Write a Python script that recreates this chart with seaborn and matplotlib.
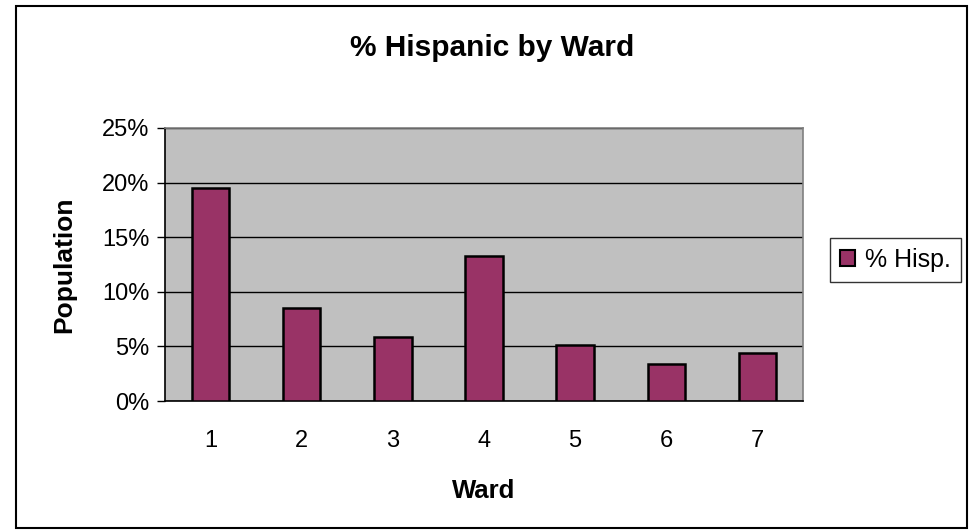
import matplotlib
matplotlib.use('Agg')
import matplotlib.pyplot as plt
import seaborn as sns
from matplotlib.ticker import PercentFormatter, FixedLocator
from matplotlib.patches import Rectangle

wards = ['1', '2', '3', '4', '5', '6', '7']
pct_hisp = [0.195, 0.085, 0.059, 0.133, 0.051, 0.034, 0.044]
series_name = '% Hisp.'

sns.set_style('white')
plt.rcParams['font.family'] = ['Liberation Sans', 'DejaVu Sans']
plt.rcParams['text.color'] = 'black'
plt.rcParams['axes.labelcolor'] = 'black'
plt.rcParams['xtick.color'] = 'black'
plt.rcParams['ytick.color'] = 'black'

fig = plt.figure(figsize=(9.73, 5.32), dpi=100)
ax = fig.add_axes([165 / 973, 1 - 401 / 532, 638 / 973, 273 / 532])
ax.set_facecolor('#c0c0c0')

sns.barplot(x=wards, y=pct_hisp, color='#993366', saturation=1, width=0.41,
            edgecolor='black', linewidth=1.8, label=series_name, ax=ax, zorder=3)

ax.set_xlim(-0.5, 6.5)
ax.set_ylim(0, 0.25)
ax.set_yticks([0, 0.05, 0.10, 0.15, 0.20, 0.25])
ax.yaxis.set_major_formatter(PercentFormatter(1.0, decimals=0))
ax.yaxis.grid(True, color='black', linewidth=1, zorder=1)
ax.set_axisbelow(True)

# category boundaries get the tick marks, labels stay centered
ax.xaxis.set_minor_locator(FixedLocator([i - 0.5 for i in range(len(wards) + 1)]))
ax.tick_params(axis='x', which='major', length=0, pad=21, labelsize=17)
ax.tick_params(axis='x', which='minor', length=6, width=1, color='black', direction='out')
ax.tick_params(axis='y', length=6, width=1, color='black', direction='out', pad=5, labelsize=17, left=True)

for side in ['left', 'bottom']:
    ax.spines[side].set_color('black')
    ax.spines[side].set_linewidth(1.2)
for side in ['top', 'right']:
    ax.spines[side].set_color('#808080')
    ax.spines[side].set_linewidth(1.2)

ax.set_xlabel('Ward', fontsize=18.5, fontweight='bold', labelpad=19)
ax.set_ylabel('Population', fontsize=19, fontweight='bold', labelpad=19)

fig.text(492 / 973, 1 - 48 / 532, '% Hispanic by Ward', ha='center', va='center',
         fontsize=21.5, fontweight='bold')

leg = ax.legend(loc='center left', bbox_to_anchor=(830 / 973, 1 - 260 / 532),
                bbox_transform=fig.transFigure, fontsize=18, frameon=True, fancybox=False,
                handlelength=0.6, handleheight=0.6, handletextpad=0.4, borderpad=0.4,
                borderaxespad=0)
leg.get_frame().set_edgecolor('black')
leg.get_frame().set_linewidth(1)
for h in leg.legend_handles:
    h.set_linewidth(1.5)

fig.patches.append(Rectangle((16 / 973, 1 - 528 / 532), 951 / 973, 522 / 532,
                             transform=fig.transFigure, fill=False,
                             edgecolor='black', linewidth=1.5))

fig.savefig('out.png', dpi=100)
